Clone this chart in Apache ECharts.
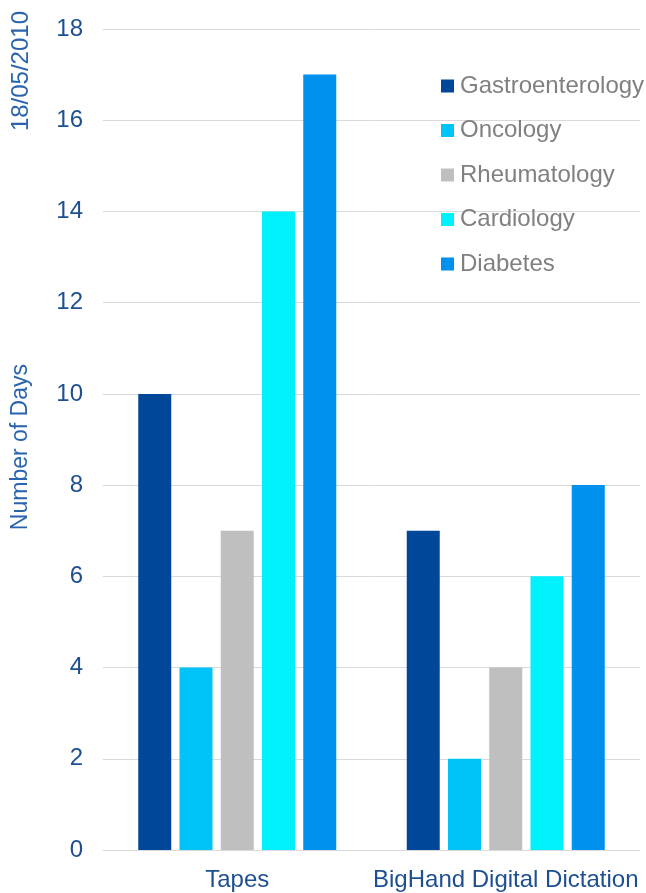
<!DOCTYPE html>
<html>
<head>
<meta charset="utf-8">
<script src="https://cdn.jsdelivr.net/npm/echarts@6/dist/echarts.min.js"></script>
<style>
  html, body { margin: 0; padding: 0; background: #fff; }
  #main { width: 646px; height: 893px; }
</style>
</head>
<body>
<div id="main"></div>
<script>
var categories = ['Tapes', 'BigHand Digital Dictation'];
var gastroenterology = [10, 7];
var oncology = [4, 2];
var rheumatology = [7, 4];
var cardiology = [14, 6];
var diabetes = [17, 8];

var seriesNames = ['Gastroenterology', 'Oncology', 'Rheumatology', 'Cardiology', 'Diabetes'];
var seriesData = [gastroenterology, oncology, rheumatology, cardiology, diabetes];
var colors = ['#00479A', '#00C3F8', '#BFBFBF', '#00F0FC', '#0090EE'];

var font = 'Arial, "Liberation Sans", sans-serif';

var option = {
  animation: false,
  color: colors,
  grid: { left: 103, right: 6, top: 29, bottom: 43, outerBoundsMode: 'none', containLabel: false },
  graphic: [{
    type: 'text',
    left: 9,
    top: 11,
    rotation: Math.PI / 2,
    style: {
      text: '18/05/2010',
      font: '24px ' + font,
      fill: '#2A64AE'
    }
  }, {
    // y axis title
    type: 'text',
    left: 9,
    top: 364,
    rotation: Math.PI / 2,
    style: {
      text: 'Number of Days',
      font: '23px ' + font,
      fill: '#2A64AE'
    }
  }],
  legend: {
    orient: 'vertical',
    left: 441,
    top: 74,
    padding: 0,
    itemWidth: 13,
    itemHeight: 13,
    itemGap: 20.5,
    icon: 'rect',
    textStyle: { color: '#808080', fontSize: 24, fontFamily: font, padding: [0, 0, 0, 1] },
    data: seriesNames
  },
  xAxis: {
    type: 'category',
    data: categories,
    axisLine: { lineStyle: { color: '#D9D9D9', width: 1 } },
    axisTick: { show: false },
    axisLabel: { color: '#1D4F91', fontSize: 24, fontFamily: font, margin: 18, interval: 0 }
  },
  yAxis: {
    type: 'value',
    min: 0,
    max: 18,
    interval: 2,
    axisLine: { show: false },
    axisTick: { show: false },
    axisLabel: { color: '#1D4F91', fontSize: 24, fontFamily: font, margin: 20 },
    splitLine: { lineStyle: { color: '#D9D9D9', width: 1 } }
  },
  series: seriesNames.map(function (name, i) {
    return {
      name: name,
      type: 'bar',
      data: seriesData[i],
      barWidth: 33,
      barGap: '25%'
    };
  })
};

var myChart = echarts.init(document.getElementById('main'));
myChart.setOption(option);
</script>
</body>
</html>
